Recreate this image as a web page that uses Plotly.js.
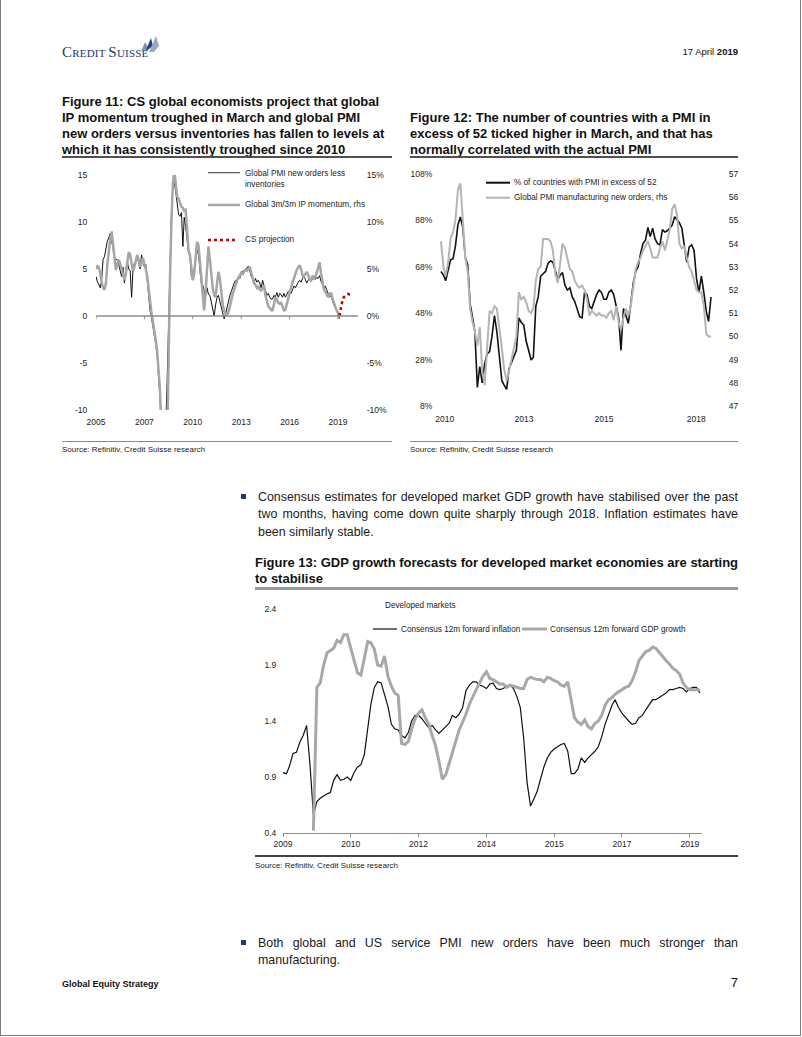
<!DOCTYPE html>
<html><head><meta charset="utf-8">
<script src="https://cdn.plot.ly/plotly-3.0.1.min.js"></script>
<style>
html,body{margin:0;padding:0;background:#fff;}
body{width:802px;height:1037px;position:relative;overflow:hidden;font-family:"Liberation Sans",Arial,sans-serif;color:#000;}
.frame{position:absolute;left:0;top:-5px;width:801px;height:1041px;border:1px solid #7f7f7f;box-sizing:border-box;}
.t{position:absolute;white-space:nowrap;}
.ftitle{position:absolute;white-space:nowrap;font-weight:bold;font-size:13px;line-height:16px;color:#111;}
.uline{position:absolute;height:2px;background:#505050;}
.sline{position:absolute;height:1px;background:#8a8a8a;}
.src{position:absolute;white-space:nowrap;font-size:8px;line-height:10px;color:#222;}
.bl{position:absolute;left:258px;width:480px;font-size:12.4px;line-height:17.5px;color:#1a1a1a;white-space:nowrap;}
.j{text-align:justify;text-align-last:justify;}
.bullet{position:absolute;width:5px;height:5px;background:#1f3a6b;}
.chart{position:absolute;}
</style></head>
<body>
<div class="frame"></div>

<!-- header -->
<div class="t" style="left:62px;top:44px;line-height:15px;color:#1e3868;font-family:'Liberation Serif',serif;letter-spacing:0.2px;">
<span style="font-size:15px">C</span><span style="font-size:11px">REDIT</span><span style="font-size:11px"> </span><span style="font-size:15px">S</span><span style="font-size:11px">UISSE</span></div>
<svg style="position:absolute;left:136px;top:33px" width="26" height="22" viewBox="0 0 26 22">
<polygon points="5,19 9,9 12,15" fill="#7d8fb3"/>
<polygon points="9,19 15,5 17,13" fill="#27457a"/>
<polygon points="13,19 20,3 23,13 18,19" fill="#9aa9c6"/>
</svg>
<div class="t" style="left:600px;width:138px;text-align:right;top:46px;font-size:9.5px;line-height:12px;color:#111;">17 April <b>2019</b></div>

<!-- figure titles -->
<div class="ftitle" style="left:62px;top:93.8px;">Figure 11: CS global economists project that global<br>IP momentum troughed in March and global PMI<br>new orders versus inventories has fallen to levels at<br>which it has consistently troughed since 2010</div>
<div class="uline" style="left:62px;top:156.3px;width:330px;"></div>
<div class="ftitle" style="left:410px;top:109.8px;">Figure 12: The number of countries with a PMI in<br>excess of 52 ticked higher in March, and that has<br>normally correlated with the actual PMI</div>
<div class="uline" style="left:410px;top:156.3px;width:328px;"></div>

<div id="fig11" class="chart" style="left:60px;top:165px;width:340px;height:270px;"></div>
<div id="fig12" class="chart" style="left:400px;top:165px;width:350px;height:270px;"></div>

<div class="sline" style="left:62px;top:441px;width:330px;"></div>
<div class="sline" style="left:410px;top:441px;width:328px;"></div>
<div class="src" style="left:62px;top:445px;">Source: Refinitiv, Credit Suisse research</div>
<div class="src" style="left:410px;top:445px;">Source: Refinitiv, Credit Suisse research</div>

<!-- bullet 1 -->
<div class="bullet" style="left:241px;top:494px;"></div>
<div class="bl j" style="top:488.5px;">Consensus estimates for developed market GDP growth have stabilised over the past</div>
<div class="bl j" style="top:506px;">two months, having come down quite sharply through 2018. Inflation estimates have</div>
<div class="bl" style="top:523.5px;">been similarly stable.</div>

<div class="ftitle" style="left:255px;top:555px;">Figure 13: GDP growth forecasts for developed market economies are starting</div>
<div class="ftitle" style="left:255px;top:571px;">to stabilise</div>
<div style="position:absolute;left:255px;top:587px;width:483px;height:3px;background:#9a9a9a;"></div>

<div id="fig13" class="chart" style="left:250px;top:595px;width:470px;height:260px;"></div>

<div style="position:absolute;left:255px;top:855px;width:483px;height:1.5px;background:#444;"></div>
<div class="src" style="left:255px;top:861px;">Source: Refinitiv, Credit Suisse research</div>

<!-- bullet 2 -->
<div class="bullet" style="left:241px;top:940px;"></div>
<div class="bl j" style="top:934.5px;">Both global and US service PMI new orders have been much stronger than</div>
<div class="bl" style="top:952px;">manufacturing.</div>

<!-- footer -->
<div class="t" style="left:62px;top:978.5px;font-size:9px;line-height:11px;font-weight:bold;color:#111;">Global Equity Strategy</div>
<div class="t" style="left:700px;width:38px;text-align:right;top:975px;font-size:13px;line-height:16px;color:#111;">7</div>

<script>
// ---------- shared helpers (categories only) ----------
function monthSeq(y, m, n) {
  var out = [];
  for (var i = 0; i < n; i++) {
    var mm = m - 1 + i, yy = y + Math.floor(mm / 12), mo = (mm % 12) + 1;
    out.push(yy + '-' + (mo < 10 ? '0' : '') + mo + '-01');
  }
  return out;
}

// ---------- Figure 11 data ----------
var fig11Dates = monthSeq(2005, 1, 172);
var pmiNewOrdersLessInv = [
  4.2,3.6,3.4,3.0,3.8,6.0,6.3,7.0,8.0,8.3,8.8,8.0,
  7.0,6.3,6.0,6.0,5.5,4.8,4.2,5.2,3.5,5.0,5.8,5.0,
  4.8,2.0,4.8,5.6,5.8,6.3,5.5,5.0,6.5,5.8,5.2,5.5,
  3.5,1.8,0.6,-0.2,-1.0,-2.0,-3.0,-4.3,-6.5,-9.3,-12.5,-13.5,
  -13,-11.5,-7,0,6.5,11,13.5,14.2,13.2,12,10.8,10.6,
  11,7.4,10.5,9.5,8.4,6.8,6.4,4.2,4.0,5.0,6.2,7.0,
  6.5,5.0,3.5,3.3,2.5,2.1,3.0,2.3,2.2,1.5,0.8,0.0,
  1.2,2.0,2.2,1.5,0.8,0.3,-0.3,0.2,1.0,1.5,2.2,2.6,
  3.2,3.5,3.8,3.5,4.2,4.0,4.5,4.8,4.6,5.0,5.1,5.3,
  4.8,4.2,4.0,3.5,4.0,3.6,3.8,3.5,3.0,3.8,3.2,2.6,
  2.2,2.4,2.0,1.8,1.8,2.2,2.0,2.5,2.0,2.4,2.3,2.0,
  2.4,2.0,2.3,2.6,2.5,2.4,2.8,3.2,3.0,3.4,3.6,3.8,
  3.6,4.0,4.3,3.9,3.5,3.8,4.1,3.7,4.0,4.2,3.9,4.1,
  4.0,4.3,3.7,3.4,2.9,3.2,2.8,2.3,2.0,2.2,1.6,1.2,
  0.9,0.6,0.2,-0.3
];
var ipMomentum = [
  5.0,5.3,5.2,4.6,3.6,3.0,2.8,3.5,5.5,7.0,8.2,9.0,
  7.8,6.0,4.9,5.5,6.0,5.6,5.0,4.2,3.8,4.5,6.0,6.8,
  6.5,5.5,4.8,5.2,6.0,6.5,6.0,5.2,5.6,6.2,5.5,5.0,
  4.2,2.6,1.2,0.3,-0.6,-1.5,-2.6,-3.8,-5.5,-8.0,-13,-20,
  -25,-23,-14,-4,4,10,14,15.5,14,12.7,12.5,12.0,
  11.6,11.5,11.2,11.3,8.5,7.0,6.5,5.0,3.8,4.5,6.5,7.9,
  7.5,5.5,4.0,1.7,0.6,2.5,5.5,7.4,6.0,4.2,3.0,2.2,
  2.0,3.5,4.7,4.0,2.5,1.2,0.6,0.2,0.1,0.4,1.0,1.8,
  2.4,2.8,3.3,3.8,4.0,4.3,4.6,4.4,4.8,4.9,4.8,5.0,
  5.2,4.6,3.9,3.5,3.3,3.0,3.2,2.8,2.7,3.0,3.2,2.2,
  1.5,1.0,0.9,0.6,0.6,1.2,1.9,1.8,1.4,1.3,1.4,1.0,
  0.6,0.7,1.3,1.8,2.6,3.3,3.6,4.0,4.6,4.9,5.2,5.4,
  5.0,4.3,4.2,4.5,4.7,4.4,3.9,3.8,4.3,4.0,4.2,4.6,
  5.2,5.7,4.6,3.5,2.9,2.6,2.2,2.0,2.3,2.5,1.9,1.3,
  1.0,0.6,0.3,0.0
];
var projDates = monthSeq(2019, 4, 10);
var projValues = [0.0,0.9,1.6,2.0,2.2,2.3,2.35,2.3,2.2,2.1];
var fig11TickVals = ['2005-01-01','2007-11-01','2010-09-01','2013-07-01','2016-05-01','2019-03-01'];
var fig11TickText = ['2005','2007','2010','2013','2016','2019'];
var fig11YVals = [-10,-5,0,5,10,15];
var fig11YLeft = ['-10','-5','0','5','10','15'];
var fig11YRight = ['-10%','-5%','0%','5%','10%','15%'];

// ---------- Figure 12 data ----------
var fig12Dates = monthSeq(2010, 1, 112);
var pctCountriesAbove52 = [
  66,64.5,62,67,71,71.5,77,86,89.5,85,72,69,
  52,46,40,16,25,18,26,30.5,31.5,38,47,40,
  29,19,17,15.2,24,26.5,29,32,46,44,43,36,
  32,27.8,29,51,55,64,65,66,69.5,70.5,70,66,
  62.5,64.5,65.5,60,58,59,55,53,50,46.5,46,57,
  56,51,50,53,56,58,57,54,54,57,58,56,
  51,46,32,50,47,43.6,52,61,66,68,73.8,78,
  79.5,85,81,84.6,80,78,77.5,84,83,83.5,84.6,86,
  89.6,88,87,84.6,76.7,70,76.5,77.5,75,63,57,64,
  57,48.7,44.5,55
];
var globalPmiNewOrders = [
  54.1,53.0,52.6,53.2,54.2,54.5,55.0,56.3,56.6,55.0,53.4,52.8,
  51.2,50.6,50.2,49.6,50.4,48.5,47.9,49.5,51.1,51.0,51.3,51.2,
  50.4,49.5,48.6,48.1,48.5,49.0,49.6,50.0,51.9,51.6,51.7,51.5,
  51.1,51.0,51.2,52.4,52.9,53.0,54.2,54.2,54.2,54.1,53.7,52.7,
  52.3,53.2,54.0,53.8,53.4,52.9,52.8,52.4,52.2,52.1,52.2,52.0,
  51.6,50.9,51.1,51.0,50.9,51.0,50.9,50.9,50.8,51.0,51.1,50.7,
  51.3,50.6,50.3,50.8,51.2,50.9,51.3,52.1,52.9,53.2,53.4,53.7,
  53.9,54.1,53.8,53.4,53.4,53.4,53.8,54.1,53.7,54.2,54.6,55.5,
  55.7,55.2,54.0,53.8,53.9,53.4,53.0,52.8,52.4,52.0,51.9,51.9,
  51.3,50.1,50.0,50.0
];
var fig12TickVals = ['2010-02-18','2012-11-03','2015-08-01','2018-09-27'];
var fig12TickText = ['2010','2013','2015','2018'];
var fig12YLeftVals = [8,28,48,68,88,108];
var fig12YLeftText = ['8%','28%','48%','68%','88%','108%'];
var fig12YRightVals = [47,48,49,50,51,52,53,54,55,56,57];

// ---------- Figure 13 data ----------
var fig13Dates = monthSeq(2009, 1, 124);
var inflation12m = [
  0.94,0.93,1.00,1.11,1.12,1.21,1.27,1.36,1.00,0.56,0.68,0.71,
  0.73,0.75,0.76,0.87,0.92,0.87,0.88,0.90,0.87,0.94,0.99,1.01,
  1.10,1.32,1.55,1.70,1.75,1.74,1.63,1.53,1.37,1.33,1.32,1.27,
  1.25,1.30,1.40,1.45,1.45,1.42,1.38,1.34,1.36,1.32,1.29,1.32,
  1.35,1.38,1.45,1.43,1.46,1.52,1.67,1.72,1.75,1.75,1.72,1.71,
  1.69,1.73,1.74,1.69,1.68,1.69,1.71,1.72,1.69,1.62,1.52,1.25,
  0.85,0.64,0.70,0.77,0.88,0.99,1.07,1.12,1.15,1.17,1.19,1.20,
  1.13,0.93,0.93,0.97,1.07,1.03,1.07,1.10,1.13,1.17,1.26,1.37,
  1.45,1.54,1.59,1.52,1.47,1.43,1.40,1.37,1.38,1.43,1.45,1.50,
  1.55,1.59,1.59,1.61,1.63,1.65,1.68,1.68,1.69,1.70,1.69,1.66,
  1.69,1.70,1.70,1.65
];
var gdpGrowth12m = [
  null,null,null,null,null,null,null,null,null,0.42,1.70,1.74,
  1.90,2.01,2.03,2.05,2.12,2.10,2.17,2.17,2.05,1.93,1.83,1.81,
  1.96,2.11,2.10,2.04,1.90,1.89,1.98,1.80,1.71,1.65,1.63,1.20,
  1.19,1.22,1.33,1.42,1.47,1.50,1.43,1.37,1.27,1.18,1.04,0.88,
  0.92,1.02,1.12,1.22,1.32,1.39,1.46,1.55,1.62,1.68,1.74,1.80,
  1.84,1.78,1.77,1.75,1.73,1.73,1.70,1.72,1.71,1.70,1.69,1.69,
  1.77,1.79,1.78,1.77,1.77,1.75,1.79,1.78,1.76,1.75,1.72,1.71,
  1.75,1.57,1.43,1.39,1.37,1.41,1.35,1.33,1.38,1.40,1.45,1.54,
  1.59,1.61,1.64,1.66,1.68,1.70,1.71,1.76,1.84,1.94,1.98,2.02,
  2.03,2.06,2.05,2.01,1.97,1.94,1.91,1.87,1.85,1.82,1.74,1.70,
  1.68,1.68,1.68,1.68
];
var fig13TickVals = ['2009-01-01','2010-09-01','2012-05-01','2014-01-01','2015-09-01','2017-05-01','2019-01-01'];
var fig13TickText = ['2009','2010','2012','2014','2015','2017','2019'];
var fig13YVals = [0.4,0.9,1.4,1.9,2.4];
var fig13YText = ['0.4','0.9','1.4','1.9','2.4'];

// ---------- styling ----------
var FONT = 'Liberation Sans, Arial, sans-serif';
var tickFont = {family: FONT, size: 8.5, color: '#222'};
var legFont = {family: FONT, size: 8.2, color: '#222'};
var cfg = {staticPlot: true, displayModeBar: false};

// geometry helper: page pixel -> paper coords for a chart
function geo(L, T, W, H) {
  return {x: function (px) { return (px - L) / W; }, y: function (py) { return (T + H - py) / H; }};
}
function legLine(g, x0, x1, py, color, width, dash) {
  return {type: 'line', xref: 'paper', yref: 'paper', x0: g.x(x0), x1: g.x(x1), y0: g.y(py), y1: g.y(py),
          line: {color: color, width: width, dash: dash || 'solid'}};
}
function legText(g, px, py, text, anchorY) {
  return {xref: 'paper', yref: 'paper', x: g.x(px), y: g.y(py), text: text, showarrow: false,
          xanchor: 'left', yanchor: anchorY || 'middle', align: 'left', font: legFont};
}

// ---------- Figure 11 ----------
(function () {
  var g = geo(96, 175, 262, 235);
  var shapes = [{type: 'line', xref: 'paper', yref: 'y', x0: 0, x1: 1, y0: 0, y1: 0, line: {color: '#8c8c8c', width: 1.5}}];
  fig11TickVals.forEach(function (d) {
    shapes.push({type: 'line', xref: 'x', yref: 'y', x0: d, x1: d, y0: 0, y1: -0.35, line: {color: '#8c8c8c', width: 1}});
  });
  shapes.push(legLine(g, 208, 240, 172.7, '#333', 1));
  shapes.push(legLine(g, 208, 240, 205, '#a6a6a6', 2.5));
  shapes.push(legLine(g, 208, 238, 240, '#c00000', 2.5, 'dot'));
  var ann = [
    legText(g, 243, 167, 'Global PMI new orders less<br>inventories', 'top'),
    legText(g, 243, 205, 'Global 3m/3m IP momentum, rhs'),
    legText(g, 243, 240, 'CS projection')
  ];
  var traces = [
    {x: fig11Dates, y: ipMomentum, yaxis: 'y2', type: 'scatter', mode: 'lines', name: 'Global 3m/3m IP momentum, rhs',
     line: {color: '#a6a6a6', width: 2.5}},
    {x: fig11Dates, y: pmiNewOrdersLessInv, yaxis: 'y', type: 'scatter', mode: 'lines', name: 'Global PMI new orders less inventories',
     line: {color: '#111', width: 1}},
    {x: projDates, y: projValues, yaxis: 'y2', type: 'scatter', mode: 'lines', name: 'CS projection',
     line: {color: '#c00000', width: 2.5, dash: 'dot'}}
  ];
  var layout = {
    width: 340, height: 270, margin: {l: 36, r: 42, t: 10, b: 25},
    paper_bgcolor: 'rgba(0,0,0,0)', plot_bgcolor: 'rgba(0,0,0,0)', showlegend: false,
    xaxis: {type: 'date', range: ['2005-01-01', '2020-05-01'], tickvals: fig11TickVals, ticktext: fig11TickText,
            showgrid: false, zeroline: false, showline: false, ticks: 'outside', ticklen: 4, tickcolor: 'rgba(0,0,0,0)', tickfont: tickFont},
    yaxis: {range: [-10, 15], tickvals: fig11YVals, ticktext: fig11YLeft, showgrid: false, zeroline: false, showline: false,
            ticks: 'outside', ticklen: 6, tickcolor: 'rgba(0,0,0,0)', tickfont: tickFont},
    yaxis2: {range: [-10, 15], overlaying: 'y', side: 'right', tickvals: fig11YVals, ticktext: fig11YRight, showgrid: false,
             zeroline: false, showline: false, ticks: 'outside', ticklen: 6, tickcolor: 'rgba(0,0,0,0)', tickfont: tickFont},
    shapes: shapes, annotations: ann
  };
  Plotly.newPlot('fig11', traces, layout, cfg);
})();

// ---------- Figure 12 ----------
(function () {
  var g = geo(438, 174, 278, 232);
  var shapes = [
    legLine(g, 486, 510, 182.7, '#111', 2),
    legLine(g, 486, 510, 197.7, '#b4b4b4', 2)
  ];
  var ann = [
    legText(g, 512, 182.7, '% of countries with PMI in excess of 52'),
    legText(g, 512, 197.7, 'Global PMI manufacturing new orders, rhs')
  ];
  var traces = [
    {x: fig12Dates, y: globalPmiNewOrders, yaxis: 'y2', type: 'scatter', mode: 'lines', name: 'Global PMI manufacturing new orders, rhs',
     line: {color: '#b4b4b4', width: 2}},
    {x: fig12Dates, y: pctCountriesAbove52, yaxis: 'y', type: 'scatter', mode: 'lines', name: '% of countries with PMI in excess of 52',
     line: {color: '#111', width: 1.6}}
  ];
  var layout = {
    width: 350, height: 270, margin: {l: 38, r: 34, t: 9, b: 29},
    paper_bgcolor: 'rgba(0,0,0,0)', plot_bgcolor: 'rgba(0,0,0,0)', showlegend: false,
    xaxis: {type: 'date', range: ['2009-11-25', '2019-06-02'], tickvals: fig12TickVals, ticktext: fig12TickText,
            showgrid: false, zeroline: false, showline: false, ticks: 'outside', ticklen: 5, tickcolor: 'rgba(0,0,0,0)', tickfont: tickFont},
    yaxis: {range: [8, 108], tickvals: fig12YLeftVals, ticktext: fig12YLeftText, showgrid: false, zeroline: false, showline: false,
            ticks: 'outside', ticklen: 3, tickcolor: 'rgba(0,0,0,0)', tickfont: tickFont},
    yaxis2: {range: [47, 57], overlaying: 'y', side: 'right', tickvals: fig12YRightVals, showgrid: false, zeroline: false,
             showline: false, ticks: 'outside', ticklen: 10, tickcolor: 'rgba(0,0,0,0)', tickfont: tickFont},
    shapes: shapes, annotations: ann
  };
  Plotly.newPlot('fig12', traces, layout, cfg);
})();

// ---------- Figure 13 ----------
(function () {
  var g = geo(283, 609, 419, 224);
  var shapes = [
    legLine(g, 373, 397, 629, '#111', 1.2),
    legLine(g, 522, 547, 629, '#a8a8a8', 3)
  ];
  var ann = [
    legText(g, 383, 606, 'Developed markets'),
    legText(g, 398.5, 629, 'Consensus 12m forward inflation'),
    legText(g, 548, 629, 'Consensus 12m forward GDP growth')
  ];
  var traces = [
    {x: fig13Dates, y: inflation12m, type: 'scatter', mode: 'lines', name: 'Consensus 12m forward inflation',
     line: {color: '#111', width: 1.2}},
    {x: fig13Dates, y: gdpGrowth12m, type: 'scatter', mode: 'lines', name: 'Consensus 12m forward GDP growth',
     line: {color: '#a8a8a8', width: 3}, connectgaps: false}
  ];
  var layout = {
    width: 470, height: 260, margin: {l: 33, r: 18, t: 14, b: 22},
    paper_bgcolor: 'rgba(0,0,0,0)', plot_bgcolor: 'rgba(0,0,0,0)', showlegend: false,
    xaxis: {type: 'date', range: ['2009-01-01', '2019-04-20'], tickvals: fig13TickVals, ticktext: fig13TickText,
            showgrid: false, zeroline: false, showline: true, linecolor: '#8c8c8c', linewidth: 1,
            ticks: 'outside', ticklen: 3, tickcolor: '#8c8c8c', tickfont: tickFont},
    yaxis: {range: [0.4, 2.4], tickvals: fig13YVals, ticktext: fig13YText, showgrid: false, zeroline: false, showline: false,
            ticks: 'outside', ticklen: 4, tickcolor: 'rgba(0,0,0,0)', tickfont: tickFont},
    shapes: shapes, annotations: ann
  };
  Plotly.newPlot('fig13', traces, layout, cfg);
})();
</script>
</body></html>
